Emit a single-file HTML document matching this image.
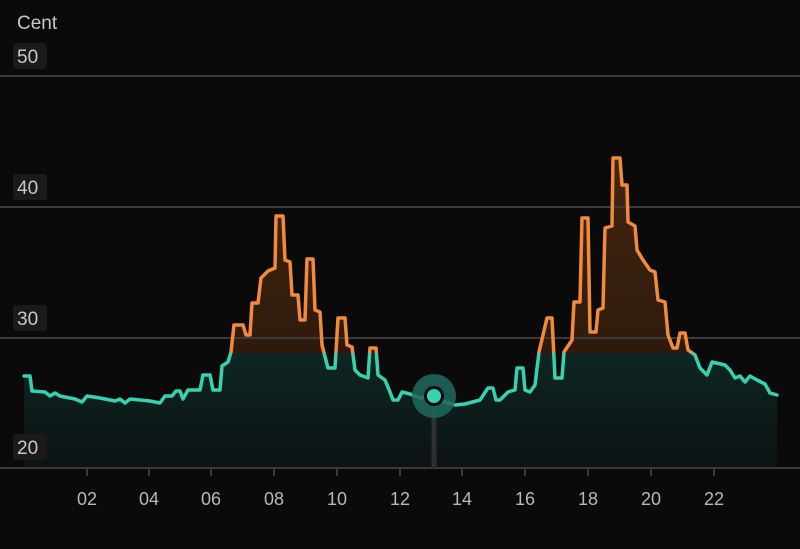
<!DOCTYPE html><html><head><style>body{margin:0;background:#0a0a0b;}svg{display:block}</style></head><body>
<svg width="800" height="549" viewBox="0 0 800 549" xmlns="http://www.w3.org/2000/svg" font-family="Liberation Sans, sans-serif">
<defs>
<linearGradient id="fo" x1="0" y1="150" x2="0" y2="352" gradientUnits="userSpaceOnUse"><stop offset="0" stop-color="#4a260d" stop-opacity="0.9"/><stop offset="1" stop-color="#2e1a0c"/></linearGradient>
<linearGradient id="ft" x1="0" y1="352" x2="0" y2="468" gradientUnits="userSpaceOnUse"><stop offset="0" stop-color="#0e2623"/><stop offset="1" stop-color="#0c1313"/></linearGradient>
<clipPath id="top"><rect x="0" y="0" width="800" height="353"/></clipPath>
<clipPath id="bot"><rect x="0" y="353" width="800" height="200"/></clipPath>
<path id="d" d="M24,376 L30,376 L32,391 L45,392 L50,396 L55,393 L60,396 L75,399 L82,402 L87,396 L100,398 L115,401 L120,399 L125,403 L130,399 L150,401 L160,403 L165,396 L172,396 L176,391 L180,391 L183,399 L188,390 L200,390 L203,375 L210,375 L213,390 L220,390 L222,366 L228,362 L231,352 L234,325 L243,325 L246,335 L250,335 L252,303 L258,303 L261,278 L268,271 L275,268 L276,216 L283,216 L285,260 L290,262 L292,295 L298,295 L300,320 L305,320 L307,259 L313,259 L315,310 L320,312 L322,345 L328,368 L335,368 L338,318 L345,318 L347,345 L352,347 L355,370 L360,375 L368,378 L370,348 L376,348 L378,375 L385,380 L390,392 L393,400 L398,400 L402,392 L410,394 L420,398 L433,396 L445,402 L455,405 L465,404 L480,400 L488,388 L493,388 L496,400 L500,400 L508,392 L515,390 L517,368 L523,368 L525,390 L530,392 L535,385 L539,352 L547,318 L552,318 L555,378 L562,378 L564,352 L572,340 L574,302 L580,302 L582,218 L588,218 L590,332 L596,332 L598,310 L603,308 L605,228 L612,226 L613,158 L620,158 L622,185 L627,185 L628,222 L635,226 L637,250 L643,260 L650,270 L655,272 L658,300 L665,302 L668,335 L673,348 L677,348 L680,333 L685,333 L688,350 L695,355 L700,368 L707,375 L712,362 L725,365 L730,370 L735,378 L740,376 L745,382 L750,376 L757,380 L765,384 L770,393 L777,395"/>
<path id="a" d="M24,376 L30,376 L32,391 L45,392 L50,396 L55,393 L60,396 L75,399 L82,402 L87,396 L100,398 L115,401 L120,399 L125,403 L130,399 L150,401 L160,403 L165,396 L172,396 L176,391 L180,391 L183,399 L188,390 L200,390 L203,375 L210,375 L213,390 L220,390 L222,366 L228,362 L231,352 L234,325 L243,325 L246,335 L250,335 L252,303 L258,303 L261,278 L268,271 L275,268 L276,216 L283,216 L285,260 L290,262 L292,295 L298,295 L300,320 L305,320 L307,259 L313,259 L315,310 L320,312 L322,345 L328,368 L335,368 L338,318 L345,318 L347,345 L352,347 L355,370 L360,375 L368,378 L370,348 L376,348 L378,375 L385,380 L390,392 L393,400 L398,400 L402,392 L410,394 L420,398 L433,396 L445,402 L455,405 L465,404 L480,400 L488,388 L493,388 L496,400 L500,400 L508,392 L515,390 L517,368 L523,368 L525,390 L530,392 L535,385 L539,352 L547,318 L552,318 L555,378 L562,378 L564,352 L572,340 L574,302 L580,302 L582,218 L588,218 L590,332 L596,332 L598,310 L603,308 L605,228 L612,226 L613,158 L620,158 L622,185 L627,185 L628,222 L635,226 L637,250 L643,260 L650,270 L655,272 L658,300 L665,302 L668,335 L673,348 L677,348 L680,333 L685,333 L688,350 L695,355 L700,368 L707,375 L712,362 L725,365 L730,370 L735,378 L740,376 L745,382 L750,376 L757,380 L765,384 L770,393 L777,395 L777,468 L24,468 Z"/>
</defs>
<rect width="800" height="549" fill="#0a0a0b"/>
<use href="#a" fill="url(#ft)"/>
<use href="#a" fill="url(#fo)" clip-path="url(#top)"/>
<g stroke="#3a3a3c" stroke-width="2"><line x1="0" y1="76" x2="800" y2="76"/><line x1="0" y1="207" x2="800" y2="207"/><line x1="0" y1="338" x2="800" y2="338"/><line x1="0" y1="468" x2="800" y2="468"/></g>
<g fill="#1a1a1b"><rect x="13" y="43" width="34" height="26" rx="3"/><rect x="13" y="174" width="34" height="26" rx="3"/><rect x="13" y="305" width="34" height="26" rx="3"/><rect x="13" y="434" width="34" height="26" rx="3"/></g>
<g fill="#c8c8ca" font-size="19"><text x="17" y="29">Cent</text><text x="17" y="63">50</text><text x="17" y="194">40</text><text x="17" y="325">30</text><text x="17" y="454">20</text></g>
<g stroke="#3a3a3c" stroke-width="2"><line x1="87" y1="468" x2="87" y2="476"/><line x1="149" y1="468" x2="149" y2="476"/><line x1="211" y1="468" x2="211" y2="476"/><line x1="274" y1="468" x2="274" y2="476"/><line x1="337" y1="468" x2="337" y2="476"/><line x1="400" y1="468" x2="400" y2="476"/><line x1="462" y1="468" x2="462" y2="476"/><line x1="525" y1="468" x2="525" y2="476"/><line x1="588" y1="468" x2="588" y2="476"/><line x1="651" y1="468" x2="651" y2="476"/><line x1="714" y1="468" x2="714" y2="476"/></g>
<g fill="#b8b8ba" font-size="18" text-anchor="middle"><text x="87" y="505">02</text><text x="149" y="505">04</text><text x="211" y="505">06</text><text x="274" y="505">08</text><text x="337" y="505">10</text><text x="400" y="505">12</text><text x="462" y="505">14</text><text x="525" y="505">16</text><text x="588" y="505">18</text><text x="651" y="505">20</text><text x="714" y="505">22</text></g>
<use href="#d" fill="none" stroke="#f28a3c" stroke-width="3.5" stroke-linejoin="round" stroke-linecap="round" clip-path="url(#top)"/>
<use href="#d" fill="none" stroke="#35d1b0" stroke-width="3.5" stroke-linejoin="round" stroke-linecap="round" clip-path="url(#bot)"/>
<line x1="434" y1="410" x2="434" y2="468" stroke="#2e2f31" stroke-width="5"/>
<circle cx="434" cy="396" r="22" fill="#1f6a5e" opacity="0.85"/>
<circle cx="434" cy="396" r="10" fill="#0a0a0b"/>
<circle cx="434" cy="396" r="7" fill="#35d1b0"/>
</svg></body></html>
